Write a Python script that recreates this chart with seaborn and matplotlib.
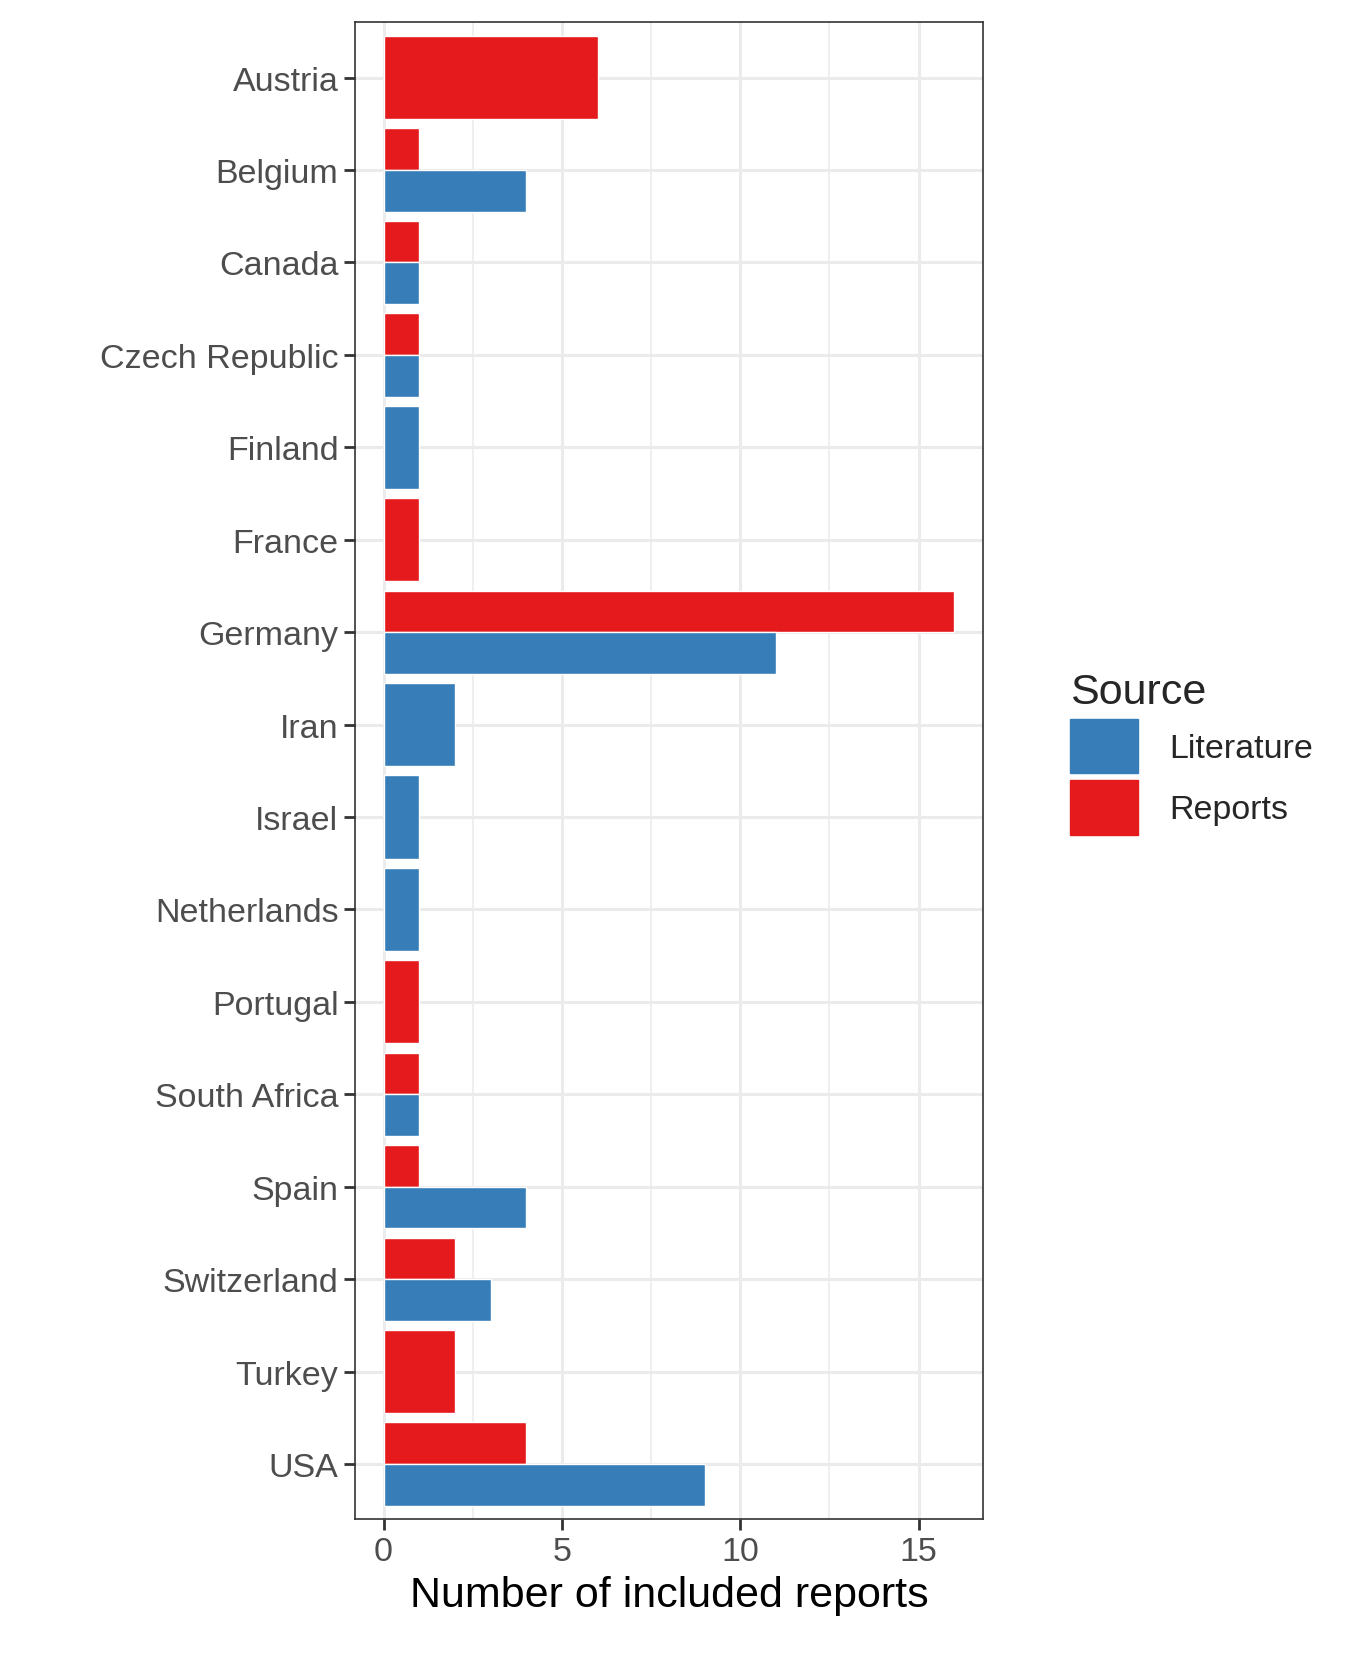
import matplotlib
matplotlib.use("Agg")
import matplotlib.pyplot as plt
import seaborn as sns
import numpy as np
from matplotlib.patches import Patch

countries = ["Austria", "Belgium", "Canada", "Czech Republic", "Finland", "France",
             "Germany", "Iran", "Israel", "Netherlands", "Portugal", "South Africa",
             "Spain", "Switzerland", "Turkey", "USA"]
# None = no reports from that source
literature = [None, 4, 1, 1, 1, None, 11, 2, 1, 1, None, 1, 4, 3, None, 9]
reports = [6, 1, 1, 1, None, 1, 16, None, None, None, 1, 1, 1, 2, 2, 4]

blue = "#377EB8"
red = "#E41A1C"

sns.set_theme(style="white")
plt.rcParams['font.family'] = ['Liberation Sans', 'DejaVu Sans']

fig = plt.figure(figsize=(13.5, 16.58), dpi=100)
ax = fig.add_axes([0.263, 0.083, 0.465, 0.903])

width = 0.9
for i, c in enumerate(countries):
    lit, rep = literature[i], reports[i]
    if lit is not None and rep is not None:
        ax.barh(i - width / 4, rep, height=width / 2, left=0, color=red, zorder=3)
        ax.barh(i + width / 4, lit, height=width / 2, left=0, color=blue, zorder=3)
    elif rep is not None:
        ax.barh(i, rep, height=width, color=red, zorder=3)
    else:
        ax.barh(i, lit, height=width, color=blue, zorder=3)

ax.set_xlim(-0.8, 16.8)
ax.set_ylim(len(countries) - 0.4, -0.6)
ax.set_yticks(range(len(countries)))
ax.set_yticklabels(countries)
ax.set_xticks([0, 5, 10, 15])
ax.set_xticks([2.5, 7.5, 12.5], minor=True)
ax.grid(True, which="major", color="#EBEBEB", linewidth=2.2, zorder=0)
ax.grid(True, which="minor", axis="x", color="#EBEBEB", linewidth=1.1, zorder=0)
ax.tick_params(axis="both", which="major", labelsize=24.5, labelcolor="#4D4D4D",
               length=8, width=2, color="#333333", left=True, bottom=True, pad=4)
ax.tick_params(which="minor", length=0)
for s in ax.spines.values():
    s.set_color("#333333")
    s.set_linewidth(1.2)
ax.set_xlabel("Number of included reports", fontsize=31, color="black", labelpad=6)

handles = [Patch(color=blue, label="Literature"), Patch(color=red, label="Reports")]
leg = fig.legend(handles=handles, title="Source", loc="center left",
                 bbox_to_anchor=(0.77, 0.545), frameon=False, fontsize=24.5,
                 title_fontsize=31, handlelength=2.0, handleheight=2.1,
                 labelspacing=0.2, handletextpad=0.9, alignment="left")

fig.savefig("out.png", dpi=100)
